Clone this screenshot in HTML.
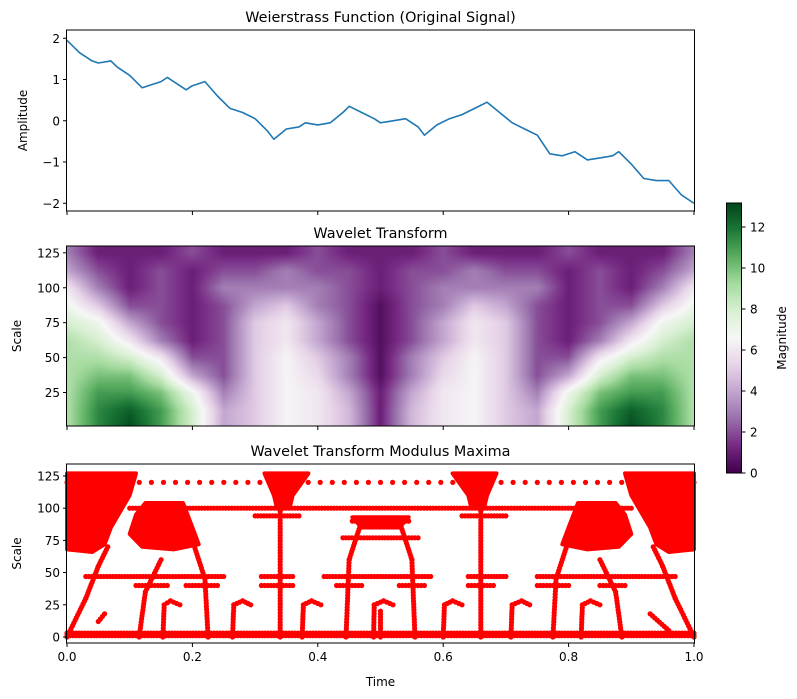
<!DOCTYPE html>
<html><head><meta charset="utf-8"><style>
body{margin:0;background:#fff;font-family:"Liberation Sans","DejaVu Sans",sans-serif;}
#wrap{position:relative;width:797px;height:699px;overflow:hidden}
canvas{position:absolute}
svg{position:absolute;left:0;top:0}
text{font-family:"DejaVu Sans","Liberation Sans",sans-serif;font-size:12px;fill:#000}
</style></head><body>
<div id="wrap">
<canvas id="heat" width="627" height="180" style="left:67px;top:246px"></canvas>
<canvas id="cbar" width="14" height="270" style="left:727px;top:203px"></canvas>
<svg id="svg" width="797" height="699"></svg>
</div>
<script>
// ---- data ----
const signalT=[0,0.02,0.04,0.05,0.07,0.08,0.1,0.12,0.14,0.15,0.16,0.18,0.19,0.2,0.22,0.24,0.26,0.28,0.3,0.32,0.33,0.35,0.37,0.38,0.4,0.42,0.44,0.45,0.47,0.49,0.5,0.52,0.54,0.56,0.57,0.59,0.61,0.63,0.65,0.67,0.69,0.71,0.73,0.75,0.77,0.79,0.81,0.83,0.85,0.87,0.88,0.9,0.92,0.94,0.96,0.98,1];
const signalV=[1.95,1.65,1.45,1.4,1.45,1.3,1.1,0.8,0.9,0.95,1.05,0.85,0.75,0.85,0.95,0.6,0.3,0.2,0.05,-0.25,-0.45,-0.2,-0.15,-0.05,-0.1,-0.05,0.2,0.35,0.2,0.05,-0.05,0.0,0.05,-0.15,-0.35,-0.1,0.05,0.15,0.3,0.45,0.2,-0.05,-0.2,-0.35,-0.8,-0.85,-0.75,-0.95,-0.9,-0.85,-0.75,-1.05,-1.4,-1.45,-1.45,-1.8,-2.0];
const heatT=[0,.05,.1,.15,.2,.25,.3,.35,.4,.45,.5,.55,.6,.65,.7,.75,.8,.85,.9,.95,1];
const heatS=[125,112,100,87,75,62,50,37,25,12,1];
const heatRows=[
[3,1,1,1,2,1,1,1,2,1,1,1,2,1,1,1,2,1,1,1,3],
[4,2,1,2,1,2,2,3,2,2,1,2,2,3,2,2,1,2,1,2,4],
[6,3,1,2,1,3,3,3,3,2,1,2,3,3,3,3,1,2,1,3,6],
[7,5,2,2,1,2,4,5,3,2,0.5,2,3,5,4,2,1,2,2,5,7],
[8,7,4,2,1,2,5,6,4,2,0.5,2,4,6,5,2,1,2,4,7,8],
[9,8,6,3,1,2,5,6,4,2,0.5,2,4,6,5,2,1,3,6,8,9],
[9,9,8,6,2,2,5,6.5,5,3,0.5,3,5,6.5,5,2,2,6,8,9,9],
[9,10,10,8,4,2,5,6.5,5.5,3,0.5,3,5.5,6.5,5,2,4,8,10,10,9],
[9,11,11,10,7,3,5,6.5,6,4,1,4,6,6.5,5,3,7,10,11,11,9],
[9,11.5,12.5,11,8,4,5,6.5,6,4.5,1,4.5,6,6.5,5,4,8,11,12.5,11.5,9],
[9,11.5,13,11,8,4,5,6.5,6,4.5,1,4.5,6,6.5,5,4,8,11,13,11.5,9]];
// maxima: horizontal runs [t0,t1,s], polylines, filled blobs
const maxHLines=[[0.1,0.9,100],[0,1,1],[0,1,3],[0.03,0.25,47],[0.31,0.36,47],[0.41,0.58,47],[0.64,0.70,47],[0.75,0.97,47],
[0.11,0.16,40],[0.19,0.24,40],[0.31,0.36,40],[0.43,0.47,40],[0.53,0.57,40],[0.64,0.68,40],[0.75,0.8,40],[0.85,0.89,40],
[0.44,0.56,77],[0.455,0.545,90],[0.3,0.37,94],[0.63,0.7,94]];
const maxDotLines=[[0.0,1.0,120]];
const maxCurves=[
[[0.0,0],[0.03,30],[0.05,55],[0.065,70]],[[1.0,0],[0.97,30],[0.95,55],[0.935,70]],
[[0.225,0],[0.22,45],[0.2,75],[0.18,90]],[[0.775,0],[0.78,45],[0.8,75],[0.82,90]],
[[0.34,0],[0.34,100]],[[0.66,0],[0.66,100]],
[[0.445,0],[0.45,60],[0.47,90]],[[0.555,0],[0.55,60],[0.53,90]],
[[0.115,0],[0.125,35],[0.15,60]],[[0.885,0],[0.875,35],[0.85,60]],
[[0.5,0],[0.5,20]],
[[0.153,0],[0.155,25],[0.165,28],[0.18,25]],[[0.264,0],[0.266,25],[0.28,28],[0.293,25]],
[[0.375,0],[0.377,25],[0.39,28],[0.405,25]],[[0.489,0],[0.49,25],[0.505,28],[0.52,25]],
[[0.6,0],[0.602,25],[0.615,28],[0.63,25]],[[0.708,0],[0.71,25],[0.725,28],[0.738,25]],
[[0.82,0],[0.822,25],[0.835,28],[0.85,25]],[[0.05,12],[0.06,18]],[[0.93,18],[0.96,5]]];
const maxBlobs=[
[[0,127],[0.11,127],[0.1,110],[0.07,85],[0.06,72],[0.04,66],[0,68]],
[[1,127],[0.89,127],[0.9,110],[0.93,85],[0.94,72],[0.96,66],[1,68]],
[[0.125,104],[0.185,104],[0.2,85],[0.21,72],[0.17,68],[0.12,70],[0.1,80],[0.11,95]],
[[0.875,104],[0.815,104],[0.8,85],[0.79,72],[0.83,68],[0.88,70],[0.9,80],[0.89,95]],
[[0.315,127],[0.385,127],[0.36,110],[0.355,100],[0.335,100],[0.33,110]],
[[0.615,127],[0.685,127],[0.67,110],[0.665,100],[0.645,100],[0.64,110]],
[[0.455,93],[0.545,93],[0.53,85],[0.47,85]]];
const yt1=[2,1,0,-1,-2], yt2=[25,50,75,100,125], yt3=[0,25,50,75,100,125], xt=[0,0.2,0.4,0.6,0.8,1.0], ctk=[0,2,4,6,8,10,12];

// ---- helpers ----
const NS="http://www.w3.org/2000/svg", svg=document.getElementById('svg');
function mk(tag,at,parent){const e=document.createElementNS(NS,tag);for(const k in at)e.setAttribute(k,at[k]);(parent||svg).appendChild(e);return e;}
const X0=67,X1=694;
const sx=t=>X0+t*(X1-X0);
const y1=v=>120.75-v*41.25;
const y2=s=>426-(s-1)/(129.9-1)*180;
const y3=s=>637-s*1.288;
const yc=v=>473-v*20.5;

// PRGn colormap
const stops=[[0,[64,0,75]],[0.1,[118,42,131]],[0.2,[153,112,171]],[0.3,[194,165,207]],[0.4,[231,212,232]],[0.5,[247,247,247]],[0.6,[217,240,211]],[0.7,[166,219,160]],[0.8,[90,174,97]],[0.9,[27,120,55]],[1,[0,68,27]]];
function cmap(f){f=Math.max(0,Math.min(1,f));for(let i=1;i<stops.length;i++){if(f<=stops[i][0]){const a=stops[i-1],b=stops[i],u=(f-a[0])/(b[0]-a[0]);return a[1].map((c,j)=>Math.round(c+(b[1][j]-c)*u));}}return stops[10][1];}
const VMAX=13.2;

// heatmap via bilinear interpolation of the grid
(function(){const c=document.getElementById('heat').getContext('2d');const W=627,H=180,img=c.createImageData(W,H);
function interp(arr,v){for(let i=1;i<arr.length;i++){const a=arr[i-1],b=arr[i];if((v-a)*(v-b)<=0)return [i-1,(v-a)/(b-a)];}return v<arr[0]===arr[0]<arr[1]?[0,0]:[arr.length-2,1];}
for(let py=0;py<H;py++){const s=129.9-(py+0.5)/H*128.9;const [ri,ru]=interp(heatS,s);
for(let px=0;px<W;px++){const t=(px+0.5)/W;const [ci,cu]=interp(heatT,t);
const a=heatRows[ri][ci],b=heatRows[ri][ci+1],cc=heatRows[ri+1][ci],d=heatRows[ri+1][ci+1];
const v=(a*(1-cu)+b*cu)*(1-ru)+(cc*(1-cu)+d*cu)*ru;const col=cmap(v/VMAX);const k=(py*W+px)*4;img.data[k]=col[0];img.data[k+1]=col[1];img.data[k+2]=col[2];img.data[k+3]=255;}}
c.putImageData(img,0,0);
const cb=document.getElementById('cbar').getContext('2d');for(let py=0;py<270;py++){const col=cmap((269.5-py)/270*(270/20.5)/VMAX);cb.fillStyle=`rgb(${col})`;cb.fillRect(0,py,14,1);}})();

// ---- panel 1 ----
let d='';signalT.forEach((t,i)=>{d+=(i?'L':'M')+sx(t).toFixed(1)+','+y1(signalV[i]).toFixed(1);});
const line=mk('path',{d,fill:'none',stroke:'#1f77b4','stroke-width':1.6,'stroke-linejoin':'round'});



// ---- panel 3 maxima ----
const g3=mk('g',{fill:'#ff0000'});


function dot(t,s){mk('circle',{cx:sx(t).toFixed(1),cy:y3(s).toFixed(1),r:2.6},g3);}
maxHLines.forEach(([a,b,s])=>{const n=Math.max(2,Math.round((b-a)*627/3));for(let i=0;i<=n;i++)dot(a+(b-a)*i/n,s);});
maxDotLines.forEach(([a,b,s])=>{const n=Math.round((b-a)*627/12);for(let i=0;i<=n;i++)dot(a+(b-a)*i/n,s);});
maxCurves.forEach(pts=>{for(let j=1;j<pts.length;j++){const [ta,sa]=pts[j-1],[tb,sb]=pts[j];const len=Math.hypot((tb-ta)*627,(sb-sa)*1.288);const n=Math.max(1,Math.round(len/3));for(let i=0;i<=n;i++)dot(ta+(tb-ta)*i/n,sa+(sb-sa)*i/n);}});
maxBlobs.forEach(p=>{mk('polygon',{points:p.map(([t,s])=>sx(t).toFixed(1)+','+y3(s).toFixed(1)).join(' '),fill:'#ff0000',stroke:'#ff0000','stroke-width':4,'stroke-linejoin':'round'},g3);});

// ---- axes ----
function axes(top,bot,name,yt,yf,ylab,title,xlabels){
 const fr=mk('rect',{x:X0-0.5,y:top,width:X1-X0+1,height:bot-top,fill:'none',stroke:'#000','stroke-width':1});
 
 
 yt.forEach(v=>{const y=yf(v);mk('line',{x1:X0-4,x2:X0-0.5,y1:y,y2:y,stroke:'#000'});const tx=mk('text',{x:X0-7,y:y+4.5,'text-anchor':'end'});tx.textContent=(v<0?'\u2212'+(-v):v);
 
 });
 xt.forEach(v=>{const x=sx(v);mk('line',{x1:x,x2:x,y1:bot,y2:bot+4,stroke:'#000'});if(xlabels){const tx=mk('text',{x,y:bot+18,'text-anchor':'middle'});tx.textContent=v.toFixed(1);
 
 }});
 const yl=mk('text',{x:0,y:0,transform:`translate(${name==='signal'?27:21},${(top+bot)/2}) rotate(-90)`,'text-anchor':'middle'});yl.textContent=ylab;
 
 
 const ti=mk('text',{x:(X0+X1)/2,y:top-8,'text-anchor':'middle',style:'font-size:14.4px'});ti.textContent=title;
 
 
}
axes(30,211,'signal',yt1,y1,'Amplitude','Weierstrass Function (Original Signal)',false);
axes(246,426,'wavelet',yt2,y2,'Scale','Wavelet Transform',false);
axes(464,643,'maxima',yt3,y3,'Scale','Wavelet Transform Modulus Maxima',true);
const xl=mk('text',{x:(X0+X1)/2,y:686,'text-anchor':'middle'});xl.textContent='Time';



// colorbar
mk('rect',{x:726.5,y:203,width:15,height:270,fill:'none',stroke:'#000'});
ctk.forEach(v=>{const y=yc(v);mk('line',{x1:741.5,x2:745.5,y1:y,y2:y,stroke:'#000'});const tx=mk('text',{x:750,y:y+4.5});tx.textContent=v;

});
const cl=mk('text',{x:0,y:0,transform:'translate(786,338) rotate(-90)','text-anchor':'middle'});cl.textContent='Magnitude';


</script>
</body></html>
